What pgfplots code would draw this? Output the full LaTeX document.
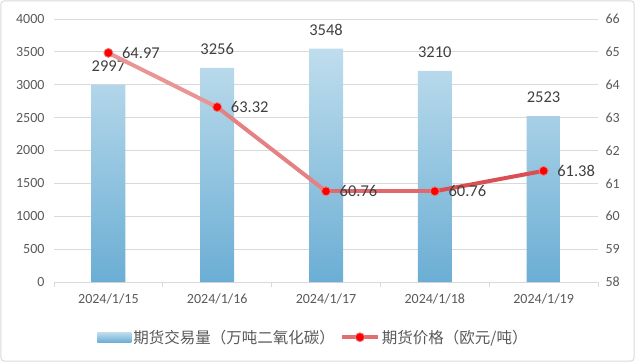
\documentclass[border=0pt]{standalone}
\usepackage{pgfplots}
\pgfplotsset{compat=1.18}
\usepackage{fontspec}
\setmainfont{Carlito}
\newfontfamily\cjk{Noto Sans CJK SC}
\definecolor{textgray}{HTML}{595959}
\definecolor{labgray}{HTML}{404040}
\definecolor{gridgray}{HTML}{D9D9D9}
\definecolor{bartop}{HTML}{BFDDED}
\definecolor{barbottom}{HTML}{6BAED4}
\definecolor{linemid}{HTML}{E07070}
\definecolor{mkedge}{HTML}{E88080}
\begin{document}
\begin{tikzpicture}
\path[use as bounding box] (-54pt,-80pt) rectangle (581pt,282pt);
\draw[gridgray, line width=1pt, rounded corners=3pt] (-53pt,-79pt) rectangle (580pt,281pt);
\begin{axis}[
  name=ax1,
  scale only axis, width=544pt, height=263pt,
  xmin=-0.5, xmax=4.5, ymin=0, ymax=4000,
  axis x line*=bottom, axis y line*=left,
  y axis line style={draw=none},
  x axis line style={draw=gridgray, line width=0.8pt, -},
  xtick={0,...,4},
  xticklabels={2024/1/15,2024/1/16,2024/1/17,2024/1/18,2024/1/19},
  major tick length=0pt,
  minor xtick={-0.5,0.5,1.5,2.5,3.5,4.5},
  minor tick length=5pt,
  minor x tick style={draw=gridgray, line width=0.8pt},
  tick align=outside,
  ytick={0,500,...,4000},
  ymajorgrids, grid style={gridgray, line width=0.8pt},
  /pgf/number format/assume math mode=true,
  /pgf/number format/1000 sep={},
  tick label style={font=\fontsize{14}{16}\selectfont, text=textgray},
  xticklabel style={yshift=-8pt},
  yticklabel style={xshift=-6pt},
  clip=false,
]
\addplot[ybar, bar width=34pt, draw=none, top color=bartop, bottom color=barbottom,
  nodes near coords,
  every node near coord/.append style={anchor=center, yshift=19pt, font=\fontsize{16.5}{18}\selectfont, text=labgray}]
  coordinates {(0,2997) (1,3256) (2,3548) (3,3210) (4,2523)};
\end{axis}
\begin{axis}[
  scale only axis, width=544pt, height=263pt,
  xmin=-0.5, xmax=4.5, ymin=58, ymax=66,
  axis x line=none, axis y line*=right,
  y axis line style={draw=none},
  major tick length=0pt,
  ytick={58,...,66},
  /pgf/number format/assume math mode=true,
  tick label style={font=\fontsize{14}{16}\selectfont, text=textgray},
  yticklabel style={xshift=4pt},
  clip=false,
  legend style={draw=none, fill=none, at={(0.477,-0.21)}, anchor=center,
    legend columns=2, font=\cjk\fontsize{15.5}{17}\selectfont, text=textgray,
    /tikz/every even column/.style={column sep=3pt}},
  legend cell align=left,
]
\addlegendimage{legend image code/.code={\path[draw=none, top color=bartop,bottom color=barbottom] (0pt,-5pt) rectangle (34pt,5pt);}}
\addlegendentry{期货交易量（万吨二氧化碳）}
\addplot[mesh, point meta=x, point meta min=0, point meta max=4,
  colormap={redmap}{rgb255=(236,160,160) rgb255=(226,118,120) rgb255=(214,66,72)},
  line width=4pt, forget plot]
  coordinates {(0,64.97) (1,63.32) (2,60.76) (3,60.76) (4,61.38)};
\addplot[only marks, mark=*, mark size=4.5pt, mark options={fill=red, draw=mkedge, line width=0.8pt},
  nodes near coords, point meta=explicit symbolic,
  every node near coord/.append style={anchor=west, xshift=10pt, font=\fontsize{16.5}{18}\selectfont, text=labgray},
  legend image code/.code={\draw[linemid, line width=4pt] (0pt,0pt) -- (36pt,0pt); \fill[red, draw=mkedge, line width=0.8pt] (18pt,0pt) circle (4.5pt);}]
  coordinates {(0,64.97) [64.97] (1,63.32) [63.32] (2,60.76) [60.76] (3,60.76) [60.76] (4,61.38) [61.38]};
\addlegendentry{期货价格（欧元/吨）}
\end{axis}
\end{tikzpicture}
\end{document}
